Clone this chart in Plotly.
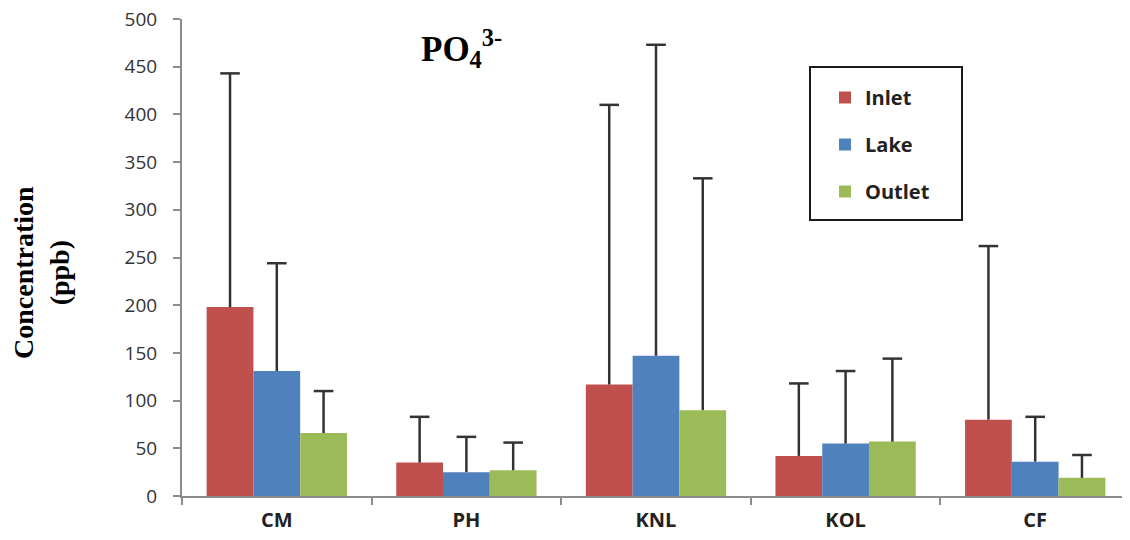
import plotly.graph_objects as go

sites = ["CM", "PH", "KNL", "KOL", "CF"]

inlet_mean = [198, 35, 117, 42, 80]
inlet_upper = [443, 83, 410, 118, 262]

lake_mean = [131, 25, 147, 55, 36]
lake_upper = [244, 62, 473, 131, 83]

outlet_mean = [66, 27, 90, 57, 19]
outlet_upper = [110, 56, 333, 144, 43]

series = [
    ("Inlet", inlet_mean, inlet_upper, "#C0504D"),
    ("Lake", lake_mean, lake_upper, "#4F81BD"),
    ("Outlet", outlet_mean, outlet_upper, "#9BBB59"),
]

y_ticks = [0, 50, 100, 150, 200, 250, 300, 350, 400, 450, 500]

# plot-area pixel geometry on the page (page body has 8px margin)
PX0, PX1, PY0, PY1 = 182, 1130, 19, 496
def px(x):
    return (x - PX0) / (PX1 - PX0)
def py(y):
    return (PY1 - y) / (PY1 - PY0)

fig = go.Figure()
for name, mean, upper, color in series:
    fig.add_trace(go.Bar(
        name=name,
        x=sites,
        y=mean,
        offsetgroup=name,
        marker=dict(color=color, line=dict(width=0)),
        legendgroup=name,
        error_y=dict(
            type="data",
            symmetric=False,
            array=[u - m for u, m in zip(upper, mean)],
            arrayminus=[0] * len(mean),
            color="#333333",
            thickness=2.5,
            width=0,
        ),
    ))
for name, mean, upper, color in series:
    fig.add_trace(go.Scatter(
        x=sites,
        y=upper,
        mode="markers",
        offsetgroup=name,
        showlegend=False,
        legendgroup=name,
        hoverinfo="skip",
        cliponaxis=False,
        marker=dict(symbol="line-ew", size=14, color="#333333",
                    line=dict(color="#333333", width=2.5)),
    ))

fig.update_layout(
    width=1130,
    height=540,
    margin=dict(l=PX0 - 8, r=8, t=PY0 - 8, b=540 + 8 - PY1, autoexpand=False),
    paper_bgcolor="white",
    plot_bgcolor="white",
    barmode="group",
    bargap=0.26,
    bargroupgap=0,
    scattermode="group",
    scattergap=0.26,
    showlegend=True,
    legend=dict(
        x=px(825), y=py(78), xanchor="left", yanchor="top",
        font=dict(family="Open Sans", size=20, color="#222222", weight="bold"),
        bgcolor="rgba(0,0,0,0)",
        borderwidth=0,
        tracegroupgap=18,
        traceorder="grouped",
    ),
    xaxis=dict(
        type="category",
        automargin=False,
        showline=True, linecolor="#8c8c8c", linewidth=2,
        ticks="outside", tickson="boundaries", ticklen=7, tickcolor="#8c8c8c", tickwidth=2,
        ticklabelstandoff=5,
        tickfont=dict(family="Open Sans", size=20, color="#222222", weight="bold"),
        showgrid=False, zeroline=False,
    ),
    yaxis=dict(
        range=[0, 500],
        tickvals=y_ticks,
        automargin=False,
        ticklabeloverflow="allow",
        showline=True, linecolor="#8c8c8c", linewidth=2,
        ticks="outside", ticklen=7, tickcolor="#8c8c8c", tickwidth=2,
        ticklabelstandoff=12,
        tickfont=dict(family="Open Sans", size=19, color="#333333"),
        showgrid=False, zeroline=False,
    ),
    shapes=[
        dict(type="rect", xref="paper", yref="paper",
             x0=px(810), x1=px(962), y0=py(220), y1=py(67),
             line=dict(color="#1a1a1a", width=2), fillcolor="rgba(0,0,0,0)"),
    ],
    annotations=[
        dict(text="<b>PO<sub>4</sub><sup>3-</sup></b>", xref="paper", yref="paper",
             x=px(461), y=py(49), xanchor="center", yanchor="middle",
             showarrow=False, font=dict(family="Liberation Serif", size=35, color="black")),
        dict(text="<b>Concentration<br>(ppb)</b>", xref="paper", yref="paper",
             x=px(41), y=py(273), xanchor="center", yanchor="middle",
             textangle=-90, showarrow=False,
             font=dict(family="Liberation Serif", size=28, color="black")),
    ],
)

fig.write_html("out.html")
